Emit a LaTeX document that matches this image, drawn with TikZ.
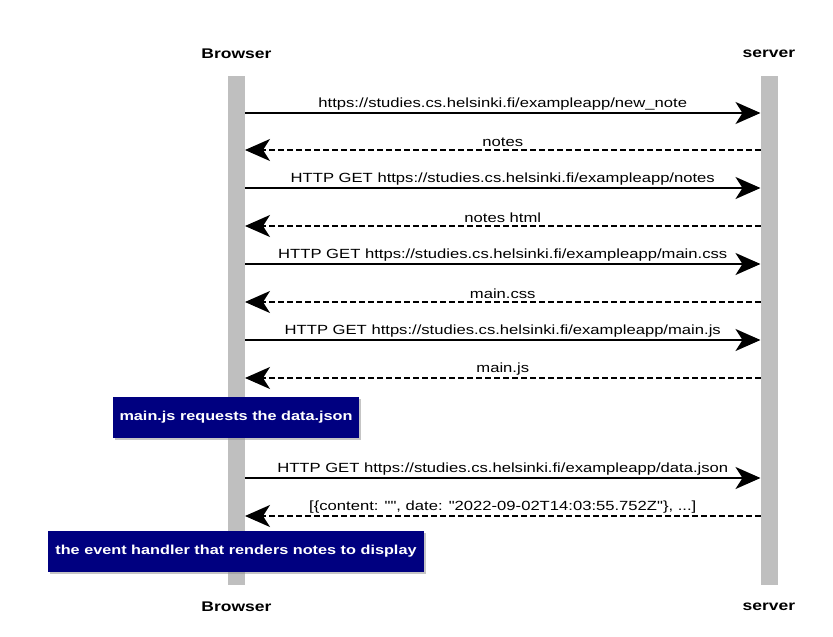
\documentclass[tikz,border=0pt]{standalone}
\usepackage{fontspec}
\setmainfont{Liberation Sans}[FakeStretch=1.25, Ligatures=TeXOff]
\usetikzlibrary{arrows.meta,shadows}
\definecolor{navy}{RGB}{0,0,128}
\tikzset{
  actor/.style={font=\fontsize{14}{16}\selectfont\bfseries},
  lifeline/.style={fill=black!25, draw=none, minimum width=17pt, minimum height=509pt, inner sep=0pt, anchor=north},
  msg/.style={line width=1.8pt, -{Stealth[length=25pt, width=22pt, inset=7pt]}},
  reply/.style={msg, dash pattern=on 6pt off 3pt},
  lbl/.style={font=\fontsize{13.3}{15}\selectfont, above, inner sep=2pt},
  notebox/.style={fill=navy, text=white, font=\fontsize{13}{15}\selectfont\bfseries, inner xsep=7pt, minimum height=41pt,
    drop shadow={shadow xshift=2pt, shadow yshift=-2pt, fill=black!45}}
}
\begin{document}
\begin{tikzpicture}[x=1pt, y=-1pt]
    \useasboundingbox (0,0) rectangle (833,637);
    % participants
    \node[actor] (btop) at (236.5,54) {Browser};
    \node[actor] (stop) at (769,54) {server};
    \node[actor] (bbot) at (236.5,607) {Browser};
    \node[actor] (sbot) at (769,607) {server};
    \node[lifeline] (bline) at (236.5,76) {};
    \node[lifeline] (sline) at (769,76) {};
    % message ends on the lifelines
    \foreach \i/\y in {1/113,2/150,3/188,4/226,5/264,6/302,7/340,8/378,9/478,10/516} {
        \coordinate (b\i) at (245,\y);
        \coordinate (s\i) at (760.5,\y);
    }
    \draw[msg] (b1) -- (s1) node[lbl, midway] {https://studies.cs.helsinki.fi/exampleapp/new\_note};
    \draw[reply] (s2) -- (b2) node[lbl, midway] {notes};
    \draw[msg] (b3) -- (s3) node[lbl, midway] {HTTP GET https://studies.cs.helsinki.fi/exampleapp/notes};
    \draw[reply] (s4) -- (b4) node[lbl, midway] {notes html};
    \draw[msg] (b5) -- (s5) node[lbl, midway] {HTTP GET https://studies.cs.helsinki.fi/exampleapp/main.css};
    \draw[reply] (s6) -- (b6) node[lbl, midway] {main.css};
    \draw[msg] (b7) -- (s7) node[lbl, midway] {HTTP GET https://studies.cs.helsinki.fi/exampleapp/main.js};
    \draw[reply] (s8) -- (b8) node[lbl, midway] {main.js};
    \node[notebox] (note1) at (236,417) {main.js requests the data.json};
    \draw[msg] (b9) -- (s9) node[lbl, midway] {HTTP GET https://studies.cs.helsinki.fi/exampleapp/data.json};
    \draw[reply] (s10) -- (b10) node[lbl, midway] {[\{content: "", date: "2022-09-02T14:03:55.752Z"\}, ...]};
    \node[notebox] (note2) at (236,551) {the event handler that renders notes to display};
\end{tikzpicture}
\end{document}
